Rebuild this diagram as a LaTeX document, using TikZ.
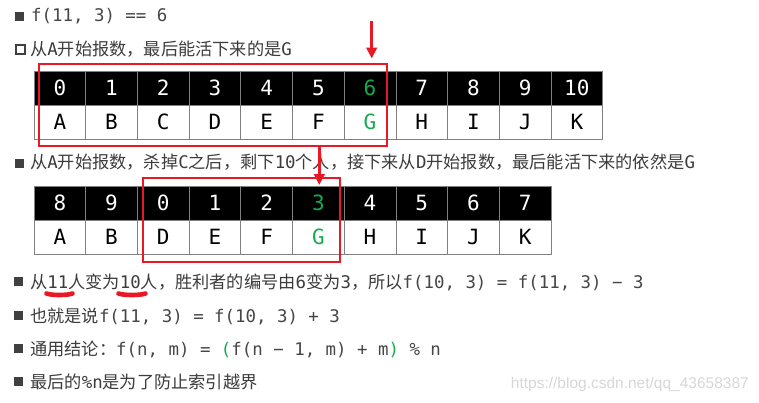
\documentclass[tikz,border=0pt]{standalone}
\usepackage{fontspec}
\setmainfont{Noto Sans CJK SC}
\newfontfamily\cjkfont{Noto Sans CJK SC}
\newfontfamily\monofont{DejaVu Sans Mono}
\newfontfamily\wmfont{Liberation Sans}
\usetikzlibrary{arrows.meta}
\definecolor{txtgray}{RGB}{60,60,60}
\definecolor{codegray}{RGB}{70,70,70}
\definecolor{bulgray}{RGB}{64,64,64}
\definecolor{redmark}{RGB}{232,24,36}
\definecolor{greenmark}{RGB}{22,170,80}
\definecolor{gridgray}{RGB}{128,128,128}
\definecolor{wmgray}{RGB}{215,215,215}
\newcommand\codetxt[1]{{\monofont\fontsize{17.4}{20}\selectfont #1}}
\newcommand\grn[1]{\textcolor{greenmark}{#1}}
\tikzset{
  line/.style={anchor=base west, inner sep=0pt, text=txtgray, font=\cjkfont\fontsize{17.2}{20}\selectfont},
  bul/.style={fill=bulgray, minimum size=9pt, inner sep=0pt},
  hbul/.style={draw=bulgray, line width=2.4pt, minimum size=8.5pt, inner sep=0pt},
  cellbase/.style={minimum width=51.7pt, minimum height=34pt, inner sep=0pt, draw=gridgray, line width=0.8pt,
    text height=15pt, text depth=0pt, font=\monofont\fontsize{21}{24}\selectfont},
  headcell/.style={cellbase, fill=black, text=white},
  bodycell/.style={cellbase, fill=white, text=black},
  redbox/.style={draw=redmark, line width=2.2pt, inner sep=0pt},
  redarrow/.style={draw=redmark, line width=2.8pt, -{Triangle[length=11pt,width=10.5pt]}},
  underl/.style={draw=redmark, line width=4.6pt, line cap=round},
}
\begin{document}
\begin{tikzpicture}[x=1pt,y=-1pt]
\useasboundingbox (0,0) rectangle (759,402);
\fill[white] (0,0) rectangle (759,402);

% text lines
\node[bul] (b1) at (19,16.5) {};
\node[line] (l1) at (31,21) {\color{codegray}\codetxt{f(11, 3) == 6}};

\node[hbul] (b2) at (20.5,49.5) {};
\node[line] (l2) at (30,55) {从\codetxt{A}开始报数，最后能活下来的是\codetxt{G}};

% table 1
\foreach \v [count=\i from 0] in {A,B,C,D,E,F,G,H,I,J,K}{
  \pgfmathsetmacro{\cx}{34+(\i+0.5)*51.7}
  \node[headcell] (ta\i) at (\cx,88) {\ifnum\i=6 \textcolor{greenmark}{\i}\else\i\fi};
  \node[bodycell] (tb\i) at (\cx,122) {\ifnum\i=6 \textcolor{greenmark}{\v}\else\v\fi};
}

\node[bul] (b3) at (19,163.5) {};
\node[line] (l3) at (30,168) {从\codetxt{A}开始报数，杀掉\codetxt{C}之后，剩下\codetxt{10}个人，接下来从\codetxt{D}开始报数，最后能活下来的依然是\codetxt{G}};

% table 2
\foreach \n/\v [count=\i from 0] in {8/A,9/B,0/D,1/E,2/F,3/G,4/H,5/I,6/J,7/K}{
  \pgfmathsetmacro{\cx}{34+(\i+0.5)*51.7}
  \node[headcell] (sa\i) at (\cx,203) {\ifnum\i=5 \textcolor{greenmark}{\n}\else\n\fi};
  \node[bodycell] (sb\i) at (\cx,237) {\ifnum\i=5 \textcolor{greenmark}{\v}\else\v\fi};
}

% red boxes
\node[redbox, minimum width=347.4pt, minimum height=81.7pt] (rb1) at (213,104.85) {};
\node[redbox, minimum width=197.3pt, minimum height=83.4pt] (rb2) at (241.35,220) {};

% red arrows
\coordinate (a1s) at (371.7,21);
\coordinate (a1e) at (371.7,58.5);
\draw[redarrow] (a1s) -- (a1e);
\coordinate (a2s) at (319.3,147);
\coordinate (a2e) at (319.3,185);
\draw[redarrow] (a2s) -- (a2e);

\node[bul] (b4) at (18.5,281.5) {};
\node[line] (l4) at (30,288) {从\codetxt{11}人变为\codetxt{10}人，胜利者的编号由\codetxt{6}变为\codetxt{3}，所以\color{codegray}\codetxt{f(10, 3) = f(11, 3) − 3}};
\coordinate (u1s) at (46.5,293.5);
\coordinate (u1e) at (72.5,293.5);
\draw[underl] (u1s) .. controls (52,295.5) and (67,295.5) .. (u1e);
\coordinate (u2s) at (118.5,293.5);
\coordinate (u2e) at (145.5,293.5);
\draw[underl] (u2s) .. controls (124,295.5) and (140,295.5) .. (u2e);

\node[bul] (b5) at (18.5,315.5) {};
\node[line] (l5) at (30,322) {也就是说{\color{codegray}\codetxt{f(11, 3) = f(10, 3) + 3}}};

\node[bul] (b6) at (18.5,348.5) {};
\node[line] (l6) at (30,355) {通用结论：{\color{codegray}\codetxt{f(n, m) = \grn{(}f(n − 1, m) + m\grn{)} \% n}}};

\node[bul] (b7) at (18.5,381.5) {};
\node[line] (l7) at (30,388) {最后的\codetxt{\%n}是为了防止索引越界};

% watermark
\node[anchor=base east, inner sep=0pt, text=wmgray, font=\wmfont\fontsize{15.5}{18}\selectfont] (wm) at (749,388) {https://blog.csdn.net/qq\_43658387};
\end{tikzpicture}
\end{document}
